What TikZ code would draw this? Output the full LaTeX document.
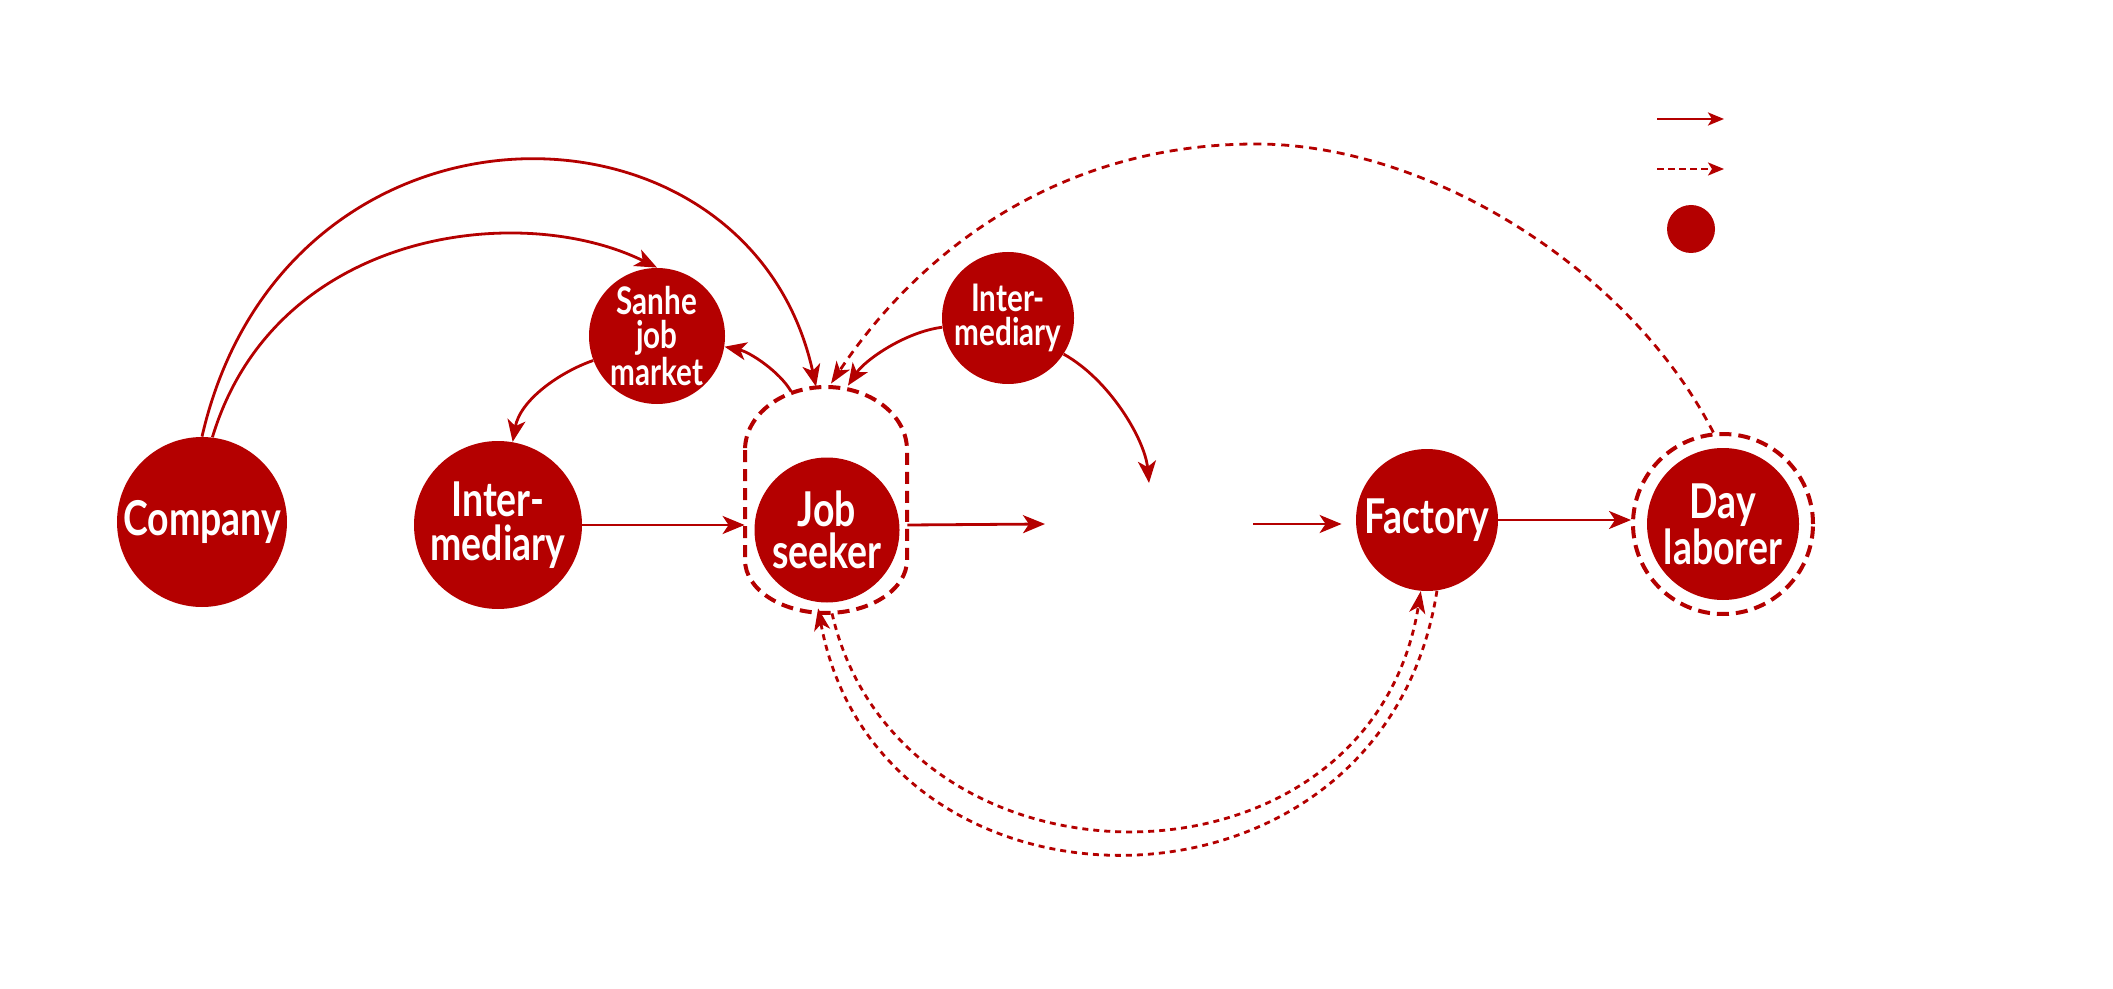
\documentclass[tikz,border=0pt]{standalone}
\usepackage{fontspec}
\newfontfamily\nodefont{Lato}[FakeStretch=0.78]
\usetikzlibrary{arrows.meta,calc}
\definecolor{dred}{RGB}{180,0,0}
\begin{document}
\begin{tikzpicture}[x=0.5pt,y=-0.5pt,
  actor/.style={circle,fill=dred,text=white,inner sep=0pt,align=center,font=\nodefont\bfseries\fontsize{24}{20}\selectfont},
  smallactor/.style={actor,font=\nodefont\bfseries\fontsize{19}{17}\selectfont},
  flow/.style={draw=dred,line width=1.4pt,-{Stealth[length=11pt,width=9pt,inset=3pt]}},
  link/.style={draw=dred,line width=1.4pt,dash pattern=on 3pt off 2.5pt,-{Stealth[length=11pt,width=8pt,inset=3pt]}},
  longlink/.style={draw=dred,line width=1.4pt,dash pattern=on 4pt off 3pt,-{Stealth[length=11pt,width=8pt,inset=3pt]}},
  legdash/.style={draw=dred,line width=1.2pt,dash pattern=on 3.5pt off 2pt,-{Stealth[length=8pt,width=6.5pt,inset=2pt]}},
  legflow/.style={draw=dred,line width=1.4pt,-{Stealth[length=8pt,width=6.5pt,inset=2pt]}},
  ringline/.style={draw=dred,line width=2pt,dash pattern=on 6pt off 3.5pt},
  ring/.style={ringline,inner sep=0pt},
]
\useasboundingbox (0,0) rectangle (2113,989);

% actors
\node[actor,minimum size=85pt] (co) at (202,522) {Company};
\node[actor,minimum size=84pt,font=\nodefont\bfseries\fontsize{24}{22}\selectfont] (il) at (498,525) {Inter-\\mediary};
\node[smallactor,minimum size=68pt] (sj) at (657,336) {Sanhe\\job\\market};
\node[smallactor,minimum size=66pt] (it) at (1008,318) {Inter-\\mediary};
\node[actor,minimum size=72.5pt,font=\nodefont\bfseries\fontsize{24}{21}\selectfont] (js) at (827,530) {Job\\seeker};
% group outline around the job seeker
\node[inner sep=0pt,minimum width=81pt,minimum height=113pt] (cap) at (826,500) {};
\draw[ringline] (745,450) -- (745,560) arc[start angle=180,end angle=0,x radius=81,y radius=53]
  -- (907,450) arc[start angle=0,end angle=-180,x radius=81,y radius=63] -- cycle;
\node[actor,minimum size=71pt] (fa) at (1427,520) {Factory};
\node[actor,minimum size=76pt] (dl) at (1723,524) {Day\\laborer};
\node[ring,circle,minimum size=90pt] (dr) at (1723,524) {};

% free ends around the (blank) middle label
\coordinate (ml) at (1045,524);
\coordinate (mr) at (1253,524);
\coordinate (mt) at (1149,483);

% legend
\coordinate (la1) at (1657,119);
\coordinate (la2) at (1724,119);
\coordinate (lb1) at (1657,169);
\coordinate (lb2) at (1724,169);
\draw[legflow] (la1) -- (la2);
\draw[legdash] (lb1) -- (lb2);
\node[circle,fill=dred,minimum size=24pt,inner sep=0pt] (lg) at (1691,229) {};

% connectors
\draw[flow] (co.north) .. controls (285,75) and (749,80) .. ($(cap.north)+(-10,0)$);
\draw[flow] (co.83) .. controls (275,230) and (520,200) .. (sj.north);
\draw[flow] (sj.201) .. controls (560,372) and (520,400) .. (il.80);
\draw[flow] ($(cap.108)+(2,5)$) .. controls (780,372) and (750,352) .. (sj.-9);
\draw[flow] (it.188) .. controls (905,332) and (865,360) .. ($(cap.north)+(22,-1)$);
\draw[flow] (it.-33) .. controls (1110,380) and (1145,440) .. (mt);
\draw[flow] (il.east) -- (il.east -| cap.west);
\draw[flow] (cap.east |- il.east) -- (ml);
\draw[flow,shorten >=7pt] (mr) -- (mr -| fa.west);
\draw[flow] (fa.east) -- (fa.east -| dr.west);
\draw[longlink] (dr.96) .. controls (1630,270) and (1430,144) .. (1256,144)
  .. controls (1060,144) and (920,250) .. ($(cap.north)+(5,-3)$);
\draw[link] (fa.-82) .. controls (1383,938) and (879,938) .. ($(js.263)+(0,6)$);
\draw[link] ($(cap.south)+(6,0)$) .. controls (900,906) and (1370,906) .. (fa.265);
\end{tikzpicture}
\end{document}
